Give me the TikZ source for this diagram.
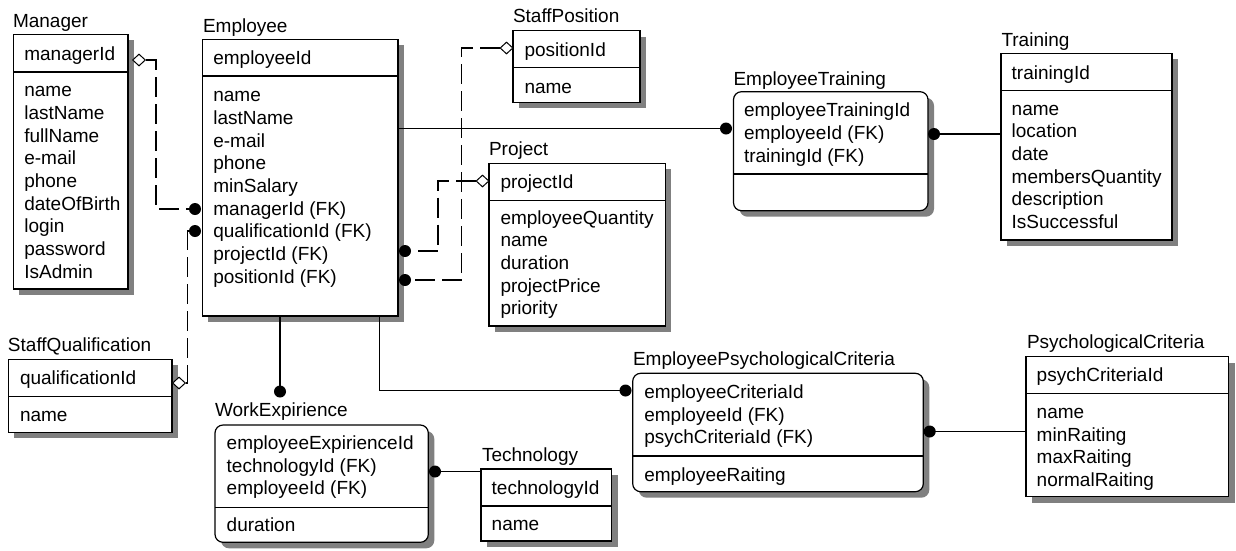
\documentclass[tikz,border=0pt]{standalone}
\usepackage{fontspec}
\setmainfont{Liberation Sans}
\usetikzlibrary{shadows,shapes.geometric}

% one attribute per line, 22.7pt apart
\newcommand\attrlist[4]{%
  \foreach \t [count=\i] in {#4}
    \node[lbl] (#1-\i) at (#2,{#3+22.7*(\i-1)}) {\t};}

\begin{document}
\begin{tikzpicture}[x=1pt,y=-1pt,
  font=\fontsize{19}{22.7}\selectfont,
  ent/.style={draw, line width=1.2pt, fill=white, anchor=north west,
    inner sep=0pt, outer sep=0pt,
    general shadow={fill=black!50, shadow xshift=6pt, shadow yshift=-6pt}},
  weak/.style={ent, rounded corners=8pt},
  sep/.style={line width=1.2pt},
  lbl/.style={anchor=base west, inner sep=0pt, outer sep=0pt},
  rel/.style={line width=1.1pt},
  idrel/.style={line width=1.1pt, dash pattern=on 20pt off 7pt},
  dot/.style={circle, fill=black, inner sep=0pt, minimum size=12pt},
  dia/.style={diamond, draw, fill=white, line width=1pt, inner sep=0pt,
    minimum width=13pt, minimum height=12pt}
]
\fill[white] (0,0) rectangle (1236,550);
\useasboundingbox (0,0) rectangle (1236,550);

% ---------- Manager ----------
\node[ent, minimum width=114.7pt, minimum height=254.7pt] (mgr) at (13.3,34.3) {};
\draw[sep] (mgr.west |- 0,72) -- (mgr.east |- 0,72);
\node[lbl] (mgr-t) at (13,27.3) {Manager};
\node[lbl] (mgr-k) at (24.3,60.7) {managerId};
\attrlist{mgr-a}{24.3}{96.7}{name,lastName,fullName,e-mail,phone,dateOfBirth,login,password,IsAdmin}

% ---------- Employee ----------
\node[ent, minimum width=195.7pt, minimum height=276.7pt] (emp) at (202.3,39.3) {};
\draw[sep] (emp.west |- 0,76) -- (emp.east |- 0,76);
\node[lbl] (emp-t) at (203,32.3) {Employee};
\node[lbl] (emp-k) at (213.3,64.3) {employeeId};
\attrlist{emp-a}{213.3}{101.7}{name,lastName,e-mail,phone,minSalary,managerId (FK),qualificationId (FK),projectId (FK),positionId (FK)}

% ---------- StaffPosition ----------
\node[ent, minimum width=127pt, minimum height=71.6pt] (sp) at (513,30.7) {};
\draw[sep] (sp.west |- 0,67.7) -- (sp.east |- 0,67.7);
\node[lbl] (sp-t) at (513,22.7) {StaffPosition};
\node[lbl] (sp-k) at (524.5,56) {positionId};
\attrlist{sp-a}{524.5}{93.3}{name}

% ---------- Project ----------
\node[ent, minimum width=176.3pt, minimum height=162.7pt] (prj) at (489,163.3) {};
\draw[sep] (prj.west |- 0,200.3) -- (prj.east |- 0,200.3);
\node[lbl] (prj-t) at (489,155) {Project};
\node[lbl] (prj-k) at (500.5,188.3) {projectId};
\attrlist{prj-a}{500.5}{224}{employeeQuantity,name,duration,projectPrice,priority}

% ---------- EmployeeTraining ----------
\node[weak, minimum width=194.5pt, minimum height=119pt] (et) at (733.5,91.7) {};
\draw[sep] (et.west |- 0,174) -- (et.east |- 0,174);
\node[lbl] (et-t) at (733.5,85) {EmployeeTraining};
\attrlist{et-k}{744}{116.7}{employeeTrainingId,employeeId (FK),trainingId (FK)}

% ---------- Training ----------
\node[ent, minimum width=171pt, minimum height=186.7pt] (trn) at (1001,53.3) {};
\draw[sep] (trn.west |- 0,90.7) -- (trn.east |- 0,90.7);
\node[lbl] (trn-t) at (1001.5,46) {Training};
\node[lbl] (trn-k) at (1011.7,79) {trainingId};
\attrlist{trn-a}{1011.7}{115}{name,location,date,membersQuantity,description,IsSuccessful}

% ---------- StaffQualification ----------
\node[ent, minimum width=163.7pt, minimum height=73pt] (sq) at (8.3,359.3) {};
\draw[sep] (sq.west |- 0,396.7) -- (sq.east |- 0,396.7);
\node[lbl] (sq-t) at (8,351.7) {StaffQualification};
\node[lbl] (sq-k) at (20,384) {qualificationId};
\attrlist{sq-a}{20}{421}{name}

% ---------- WorkExpirience ----------
\node[weak, minimum width=213.3pt, minimum height=117.3pt] (we) at (215,425) {};
\draw[sep] (we.west |- 0,507.3) -- (we.east |- 0,507.3);
\node[lbl] (we-t) at (215,416.7) {WorkExpirience};
\attrlist{we-k}{226.7}{449.3}{employeeExpirienceId,technologyId (FK),employeeId (FK)}
\attrlist{we-a}{226.7}{531.7}{duration}

% ---------- Technology ----------
\node[ent, minimum width=130.7pt, minimum height=72pt] (tech) at (481,469) {};
\draw[sep] (tech.west |- 0,506) -- (tech.east |- 0,506);
\node[lbl] (tech-t) at (482,461.7) {Technology};
\node[lbl] (tech-k) at (491.7,494) {technologyId};
\attrlist{tech-a}{491.7}{530.7}{name}

% ---------- EmployeePsychologicalCriteria ----------
\node[weak, minimum width=290.6pt, minimum height=118.4pt] (epc) at (632.7,373.3) {};
\draw[sep] (epc.west |- 0,456) -- (epc.east |- 0,456);
\node[lbl] (epc-t) at (633,365) {EmployeePsychologicalCriteria};
\attrlist{epc-k}{644.3}{398.3}{employeeCriteriaId,employeeId (FK),psychCriteriaId (FK)}
\attrlist{epc-a}{644.3}{481.7}{employeeRaiting}

% ---------- PsychologicalCriteria ----------
\node[ent, minimum width=202.7pt, minimum height=140pt] (pc) at (1026,356.7) {};
\draw[sep] (pc.west |- 0,393.3) -- (pc.east |- 0,393.3);
\node[lbl] (pc-t) at (1027,348.3) {PsychologicalCriteria};
\node[lbl] (pc-k) at (1036.7,381.7) {psychCriteriaId};
\attrlist{pc-a}{1036.7}{418.3}{name,minRaiting,maxRaiting,normalRaiting}

% ---------- relationship ends ----------
\node[dia] (dMgr)  at (139,60) {};
\node[dia] (dSq)   at (179,383) {};
\node[dia] (dPrj)  at (482.5,181) {};
\node[dia] (dSp)   at (506.5,48) {};
\node[dot] (pMgr)  at (195,209) {};
\node[dot] (pQual) at (195,231) {};
\node[dot] (pPrj)  at (405,251) {};
\node[dot] (pPos)  at (405,280) {};
\node[dot] (pEt)   at (726,128.5) {};
\node[dot] (pEtR)  at (934,134) {};
\node[dot] (pWe)   at (280,391.5) {};
\node[dot] (pEpc)  at (625.5,390.5) {};
\node[dot] (pWeR)  at (435,471.5) {};
\node[dot] (pEpcR) at (929.7,431.5) {};

% ---------- non-identifying relationships ----------
\draw[idrel] (dMgr.east) -- ++(10,0) |- (pMgr.center);
\draw[idrel] (dSq.east) -- ++(1.5,0) |- (pQual.center);
\draw[idrel] (dPrj.west) -- ++(-37.5,0) |- (pPrj.center);
\draw[idrel] (dSp.west) -- ++(-38,0) |- (pPos.center);

% ---------- identifying relationships ----------
\draw[rel] (emp.east |- pEt) -- (pEt.center);
\draw[rel] (pEtR.center) -- (trn.west |- pEtR);
\draw[rel] (emp.south -| pWe) -- (pWe.center);
\draw[rel] (emp.south) ++(79,0) |- (pEpc.center);
\draw[rel] (pWeR.center) -- (tech.west |- pWeR);
\draw[rel] (pEpcR.center) -- (pc.west |- pEpcR);
\end{tikzpicture}
\end{document}
